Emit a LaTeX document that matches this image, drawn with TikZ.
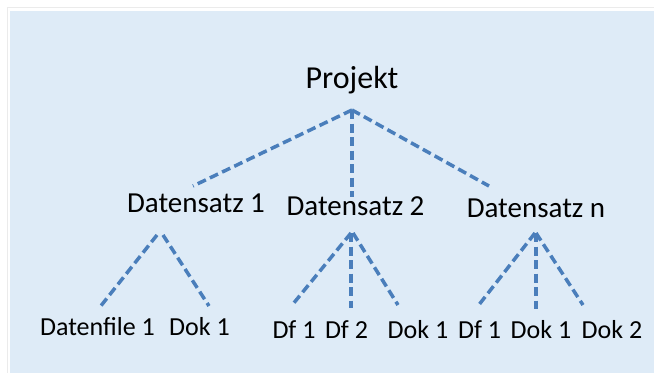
\documentclass[tikz,border=0pt]{standalone}
\usepackage{fontspec}
\setmainfont{Carlito}
\usepackage{tikz}
\definecolor{bgblue}{HTML}{DEEBF7}
\definecolor{lineblue}{HTML}{4A7EBB}

\tikzset{
	link/.style={draw=lineblue,line width=3.5pt,dash pattern=on 9pt off 4.5pt},
	root/.style={anchor=base,inner sep=0pt,font=\fontsize{32}{37}\selectfont},
	set/.style={anchor=base,inner sep=0pt,font=\fontsize{29}{34}\selectfont},
	leaf/.style={anchor=base,inner sep=0pt,font=\fontsize{26}{31}\selectfont}
}

\begin{document}
\begin{tikzpicture}[x=1pt,y=-1pt]
    \useasboundingbox (0,0) rectangle (654,373);
    \draw[black!8] (7.5,373) |- (654,7.5);
    \fill[bgblue] (9.5,10.5) rectangle (654,373);

    \draw
        node [root] (proj) at (352,88) {Projekt}
        node [set] (ds1) at (196,212) {Datensatz 1}
        node [set] (ds2) at (355.5,215) {Datensatz 2}
        node [set] (dsn) at (536,217) {Datensatz n}

        node [leaf] (df1a) at (97.5,335) {Datenfile 1}
        node [leaf] (dok1a) at (199.5,335) {Dok 1}
        node [leaf] (df1b) at (294,338) {Df 1}
        node [leaf] (df2b) at (346.5,338) {Df 2}
        node [leaf] (dok1b) at (418,338) {Dok 1}
        node [leaf] (df1c) at (479.5,338) {Df 1}
        node [leaf] (dok1c) at (541,338) {Dok 1}
        node [leaf] (dok2c) at (612,338) {Dok 2}
    ;

    \path[link]
		([yshift=-22pt]proj.base) edge ([xshift=-3pt,yshift=26pt]ds1.base)
		([yshift=-22pt]proj.base) edge ([xshift=-3.5pt,yshift=18pt]ds2.base)
		([yshift=-22pt]proj.base) edge ([xshift=-47pt,yshift=31pt]dsn.base)

		([xshift=-39pt,yshift=-23pt]ds1.base) edge ([xshift=2.5pt,yshift=28pt]df1a.base)
		([xshift=-33pt,yshift=-23pt]ds1.base) edge ([xshift=9.5pt,yshift=29pt]dok1a.base)

		([xshift=-4.5pt,yshift=-18pt]ds2.base) edge ([xshift=-1pt,yshift=34pt]df1b.base)
		([xshift=-4.5pt,yshift=-18pt]ds2.base) edge ([xshift=4.5pt,yshift=30pt]df2b.base)
		([xshift=-2.5pt,yshift=-18pt]ds2.base) edge ([xshift=-20pt,yshift=33pt]dok1b.base)

		([xshift=-1pt,yshift=-16pt]dsn.base) edge ([xshift=-1.5pt,yshift=32pt]df1c.base)
		([xshift=0pt,yshift=-16pt]dsn.base) edge ([xshift=-5pt,yshift=29pt]dok1c.base)
		([xshift=0pt,yshift=-16pt]dsn.base) edge ([xshift=-29pt,yshift=33pt]dok2c.base)
    ;
\end{tikzpicture}
\end{document}
